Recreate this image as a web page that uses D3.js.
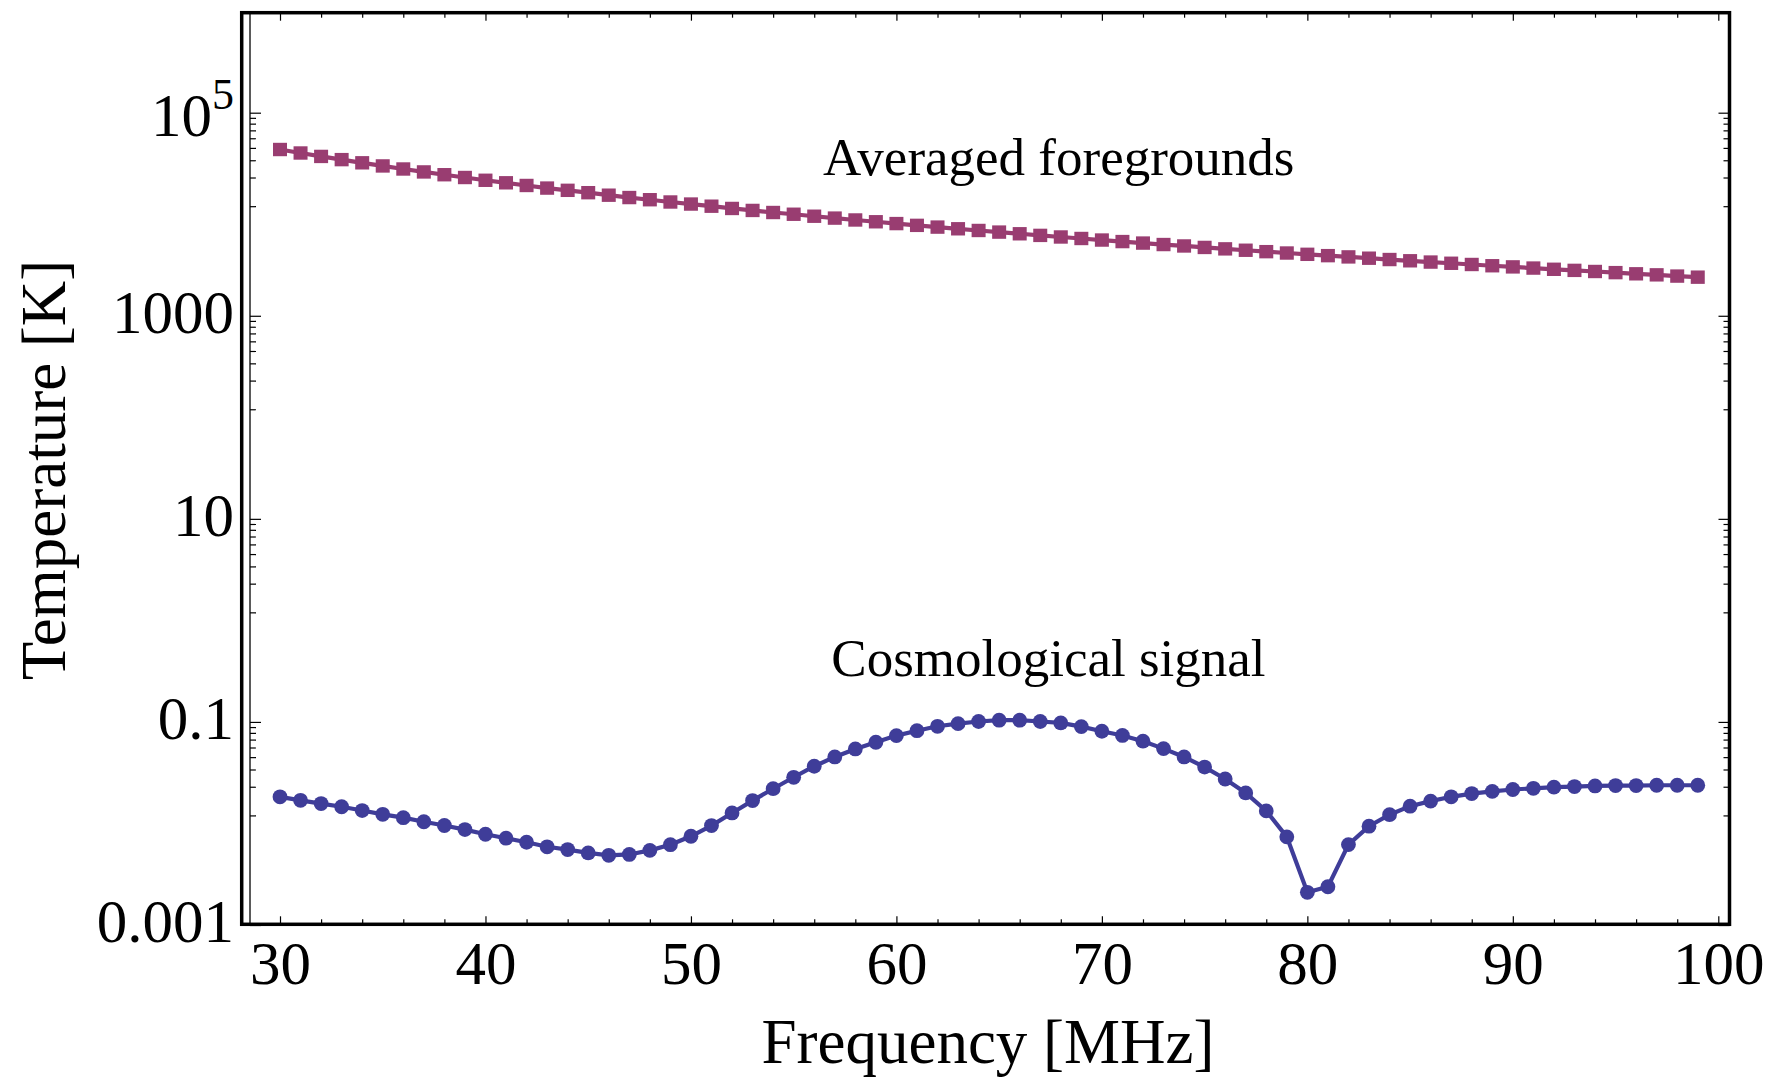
<!DOCTYPE html>
<html>
<head>
<meta charset="utf-8">
<script src="https://cdn.jsdelivr.net/npm/d3@7/dist/d3.min.js"></script>
<style>
body { margin: 0; background: #fff; }
text { font-family: "Liberation Serif", "Times New Roman", serif; fill: #000; }
</style>
</head>
<body>
<div id="chart"></div>
<script>
// frequencies in MHz
var frequencies = [30, 31, 32, 33, 34, 35, 36, 37, 38, 39,
  40, 41, 42, 43, 44, 45, 46, 47, 48, 49,
  50, 51, 52, 53, 54, 55, 56, 57, 58, 59,
  60, 61, 62, 63, 64, 65, 66, 67, 68, 69,
  70, 71, 72, 73, 74, 75, 76, 77, 78, 79,
  80, 81, 82, 83, 84, 85, 86, 87, 88, 89,
  90, 91, 92, 93, 94, 95, 96, 97, 98, 99]

// temperatures in K
var foregrounds = [43400, 40100, 37100, 34500, 32100, 29900, 27900, 26100, 24500, 23000,
  21600, 20400, 19200, 18100, 17200, 16300, 15400, 14600, 13900, 13200,
  12600, 12000, 11400, 10900, 10400, 10000, 9560, 9160, 8780, 8430,
  8090, 7770, 7470, 7190, 6920, 6670, 6420, 6190, 5970, 5770,
  5570, 5380, 5200, 5030, 4870, 4710, 4560, 4420, 4280, 4150,
  4030, 3910, 3800, 3690, 3580, 3480, 3380, 3290, 3200, 3110,
  3030, 2950, 2870, 2800, 2730, 2660, 2590, 2530, 2460, 2400]

var signal = [0.0183, 0.0169, 0.0157, 0.0146, 0.0134, 0.0123, 0.0114, 0.0104, 0.00955, 0.0087,
  0.00783, 0.00716, 0.00653, 0.00589, 0.00553, 0.00513, 0.00486, 0.00495, 0.00543, 0.00618,
  0.00748, 0.00953, 0.0127, 0.0168, 0.0220, 0.0285, 0.0366, 0.0452, 0.0542, 0.0631,
  0.0733, 0.0820, 0.0906, 0.0962, 0.101, 0.104, 0.104, 0.101, 0.0977, 0.0899,
  0.0809, 0.0736, 0.0646, 0.0546, 0.0452, 0.0359, 0.0274, 0.0200, 0.0133, 0.00738,
  0.00210, 0.00238, 0.00619, 0.00940, 0.0122, 0.0148, 0.0166, 0.0183, 0.0197, 0.0207,
  0.0216, 0.0222, 0.0228, 0.0231, 0.0234, 0.0236, 0.0236, 0.0238, 0.0238, 0.0238]

var xMajorTicks = [30, 40, 50, 60, 70, 80, 90, 100]
var xMinorTicks = [32, 34, 36, 38, 42, 44, 46, 48, 52, 54, 56, 58, 62, 64, 66, 68,
  72, 74, 76, 78, 82, 84, 86, 88, 92, 94, 96, 98]
var yMajorTicks = [1e5, 1000, 10, 0.1, 0.001]
var yTickLabels = ["10|5", "1000", "10", "0.1", "0.001"]
var seriesNames = ["Averaged foregrounds", "Cosmological signal"]
var xTitle = "Frequency [MHz]"
var yTitle = "Temperature [K]"

var colour = { foreground: "#993d71", signal: "#3f3d99" }

var width = 1772, height = 1080
var frame = { left: 241.7, right: 1729.5, top: 12.7, bottom: 924.3 }
var axisX = 250   // thin inner y-axis line

var x = d3.scaleLinear().domain([30, 100]).range([280, 1718.3])
var y = d3.scaleLog().domain([0.001, 1e5]).range([925, 112.7])

// linear subdivisions between neighbouring major ticks (Mathematica style)
var majorsAll = [0.001, 0.1, 10, 1000, 1e5, 1e7]
var yMinorTicks = []
for (var i = 1; i < majorsAll.length; i++) {
  var lo = majorsAll[i-1], hi = majorsAll[i]
  for (var k = 1; k < 9; k++) {
    var v = lo + k * (hi - lo) / 9
    if (y(v) > frame.top + 2) yMinorTicks.push(v)
  }
}

var svg = d3.select("#chart").append("svg")
  .attr("width", width).attr("height", height)
  .style("background", "#fff")

function styleAxis(g) {
  g.select(".domain").remove()
  g.selectAll(".tick line").attr("stroke", "#000").attr("stroke-width", 1.2)
  return g
}

// thin inner axis line on the left
svg.append("line")
  .attr("x1", axisX).attr("x2", axisX)
  .attr("y1", frame.top).attr("y2", frame.bottom)
  .attr("stroke", "#000").attr("stroke-width", 1.3)

// left ticks + labels
var yLeft = svg.append("g").attr("transform", "translate(" + axisX + ",0)")
  .call(d3.axisLeft(y).tickValues(yMajorTicks).tickSize(-11).tickPadding(16)
    .tickFormat(function(d, i) { return yTickLabels[i] }))
  .call(styleAxis)
yLeft.selectAll("text")
  .attr("font-size", 61).attr("dy", "0.27em")
  .each(function(d, i) {
    var lab = yTickLabels[i]
    if (lab.indexOf("|") < 0) return
    var parts = lab.split("|")
    var t = d3.select(this).text("").attr("dy", "0.37em")
    t.append("tspan").text(parts[0])
    t.append("tspan").text(parts[1]).attr("font-size", 44).attr("dy", "-0.6em")
  })
svg.append("g").attr("transform", "translate(" + axisX + ",0)")
  .call(d3.axisLeft(y).tickValues(yMinorTicks).tickSize(-6).tickFormat(""))
  .call(styleAxis)

// right ticks (pointing inward from the frame)
svg.append("g").attr("transform", "translate(" + frame.right + ",0)")
  .call(d3.axisLeft(y).tickValues(yMajorTicks).tickSize(11).tickFormat(""))
  .call(styleAxis)
svg.append("g").attr("transform", "translate(" + frame.right + ",0)")
  .call(d3.axisLeft(y).tickValues(yMinorTicks).tickSize(6).tickFormat(""))
  .call(styleAxis)

// bottom ticks + labels
var xBottom = svg.append("g").attr("transform", "translate(0," + frame.bottom + ")")
  .call(d3.axisBottom(x).tickValues(xMajorTicks).tickSize(-8).tickPadding(16)
    .tickFormat(d3.format("d")))
  .call(styleAxis)
xBottom.selectAll("text").attr("font-size", 61)
svg.append("g").attr("transform", "translate(0," + frame.bottom + ")")
  .call(d3.axisBottom(x).tickValues(xMinorTicks).tickSize(-5).tickFormat(""))
  .call(styleAxis)

// top ticks
svg.append("g").attr("transform", "translate(0," + frame.top + ")")
  .call(d3.axisTop(x).tickValues(xMajorTicks).tickSize(-8).tickFormat(""))
  .call(styleAxis)
svg.append("g").attr("transform", "translate(0," + frame.top + ")")
  .call(d3.axisTop(x).tickValues(xMinorTicks).tickSize(-5).tickFormat(""))
  .call(styleAxis)

// thick frame
svg.append("rect")
  .attr("x", frame.left).attr("y", frame.top)
  .attr("width", frame.right - frame.left).attr("height", frame.bottom - frame.top)
  .attr("fill", "none").attr("stroke", "#000").attr("stroke-width", 3.5)

// series
var fgData = frequencies.map(function(f, i) { return [f, foregrounds[i]] })
var sigData = frequencies.map(function(f, i) { return [f, signal[i]] })
var line = d3.line().x(function(d) { return x(d[0]) }).y(function(d) { return y(d[1]) })

svg.append("path").datum(fgData)
  .attr("d", line).attr("fill", "none")
  .attr("stroke", colour.foreground).attr("stroke-width", 4.2)
svg.selectAll("rect.fg").data(fgData).enter().append("rect")
  .attr("class", "fg")
  .attr("x", function(d) { return x(d[0]) - 7 })
  .attr("y", function(d) { return y(d[1]) - 6.7 })
  .attr("width", 14).attr("height", 13.4)
  .attr("fill", colour.foreground)

svg.append("path").datum(sigData)
  .attr("d", line).attr("fill", "none")
  .attr("stroke", colour.signal).attr("stroke-width", 4.2)
svg.selectAll("circle.sig").data(sigData).enter().append("circle")
  .attr("class", "sig")
  .attr("cx", function(d) { return x(d[0]) })
  .attr("cy", function(d) { return y(d[1]) })
  .attr("r", 7.4)
  .attr("fill", colour.signal)

// series annotations
svg.append("text").text(seriesNames[0])
  .attr("x", x(67.9)).attr("y", y(24400))
  .attr("text-anchor", "middle").attr("font-size", 53)
svg.append("text").text(seriesNames[1])
  .attr("x", x(67.4)).attr("y", y(0.286))
  .attr("text-anchor", "middle").attr("font-size", 53)

// axis titles
svg.append("text").text(xTitle)
  .attr("x", 988).attr("y", 1063)
  .attr("text-anchor", "middle").attr("font-size", 63)
svg.append("text").text(yTitle)
  .attr("transform", "translate(65,470) rotate(-90)")
  .attr("text-anchor", "middle").attr("font-size", 63)
</script>
</body>
</html>
